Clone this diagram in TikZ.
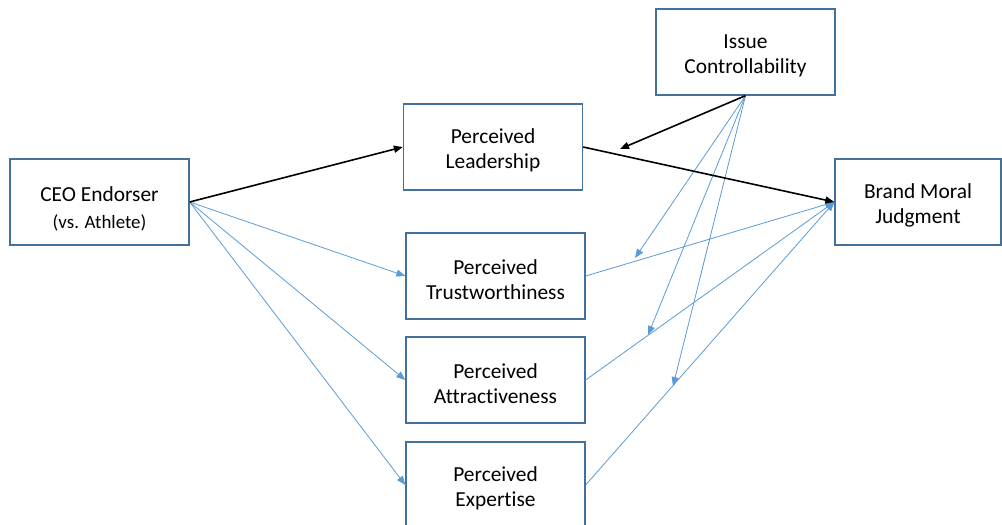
\documentclass[tikz,border=0pt]{standalone}
\usepackage{fontspec}
\setmainfont{Carlito}[Ligatures=NoCommon]
\usetikzlibrary{arrows.meta}
\definecolor{boxc}{HTML}{41719C}
\definecolor{linec}{HTML}{5B9BD5}
\newcommand\twolines[2]{\rule{0pt}{22pt}#1\\#2}
\begin{document}
\begin{tikzpicture}[x=1pt,y=-1pt,
 box/.style={draw=boxc, line width=1.3pt, fill=white, minimum width=179pt, minimum height=86pt, inner sep=0pt, align=center, font=\fontsize{21.4}{25.3}\selectfont},
 blk/.style={black, line width=1.6pt, -{Triangle[length=9pt,width=7pt]}},
 blu/.style={linec, line width=0.8pt, -{Triangle[length=9pt,width=7pt]}},
]
\useasboundingbox (0,0) rectangle (1002,525);
\clip (0,0) rectangle (1002,525);
\node[box] (ceo) at (99.5,202) {\rule{0pt}{28pt}CEO Endorser\\[2pt]{\fontsize{18.9}{22}\selectfont (vs. Athlete)}};
\node[box] (lead) at (493,147) {\twolines{Perceived}{Leadership}};
\node[box] (issue) at (745.5,52) {\twolines{Issue}{Controllability}};
\node[box, minimum width=166pt] (brand) at (918,202) {\twolines{Brand Moral}{Judgment}};
\node[box] (trust) at (495.5,276) {\twolines{Perceived}{Trustworthiness}};
\node[box] (attr) at (495.5,380) {\twolines{Perceived}{Attractiveness}};
\node[box] (exp) at (495.5,485) {\twolines{Perceived}{Expertise}};
\coordinate (t0) at (620,149);
\coordinate (t1) at (635,258);
\coordinate (t2) at (648,335);
\coordinate (t3) at (673,386);
\draw[blu] (ceo.east) -- (trust.west);
\draw[blu] (ceo.east) -- (attr.west);
\draw[blu] (ceo.east) -- (exp.west);
\draw[blu] (trust.east) -- (brand.west);
\draw[blu] (attr.east) -- (brand.west);
\draw[blu] (exp.east) -- (brand.west);
\draw[blu] (issue.south) -- (t1);
\draw[blu] (issue.south) -- (t2);
\draw[blu] (issue.south) -- (t3);
\draw[blk] (ceo.east) -- (lead.west);
\draw[blk] (lead.east) -- (brand.west);
\draw[blk] (issue.south) -- (t0);
\end{tikzpicture}
\end{document}
